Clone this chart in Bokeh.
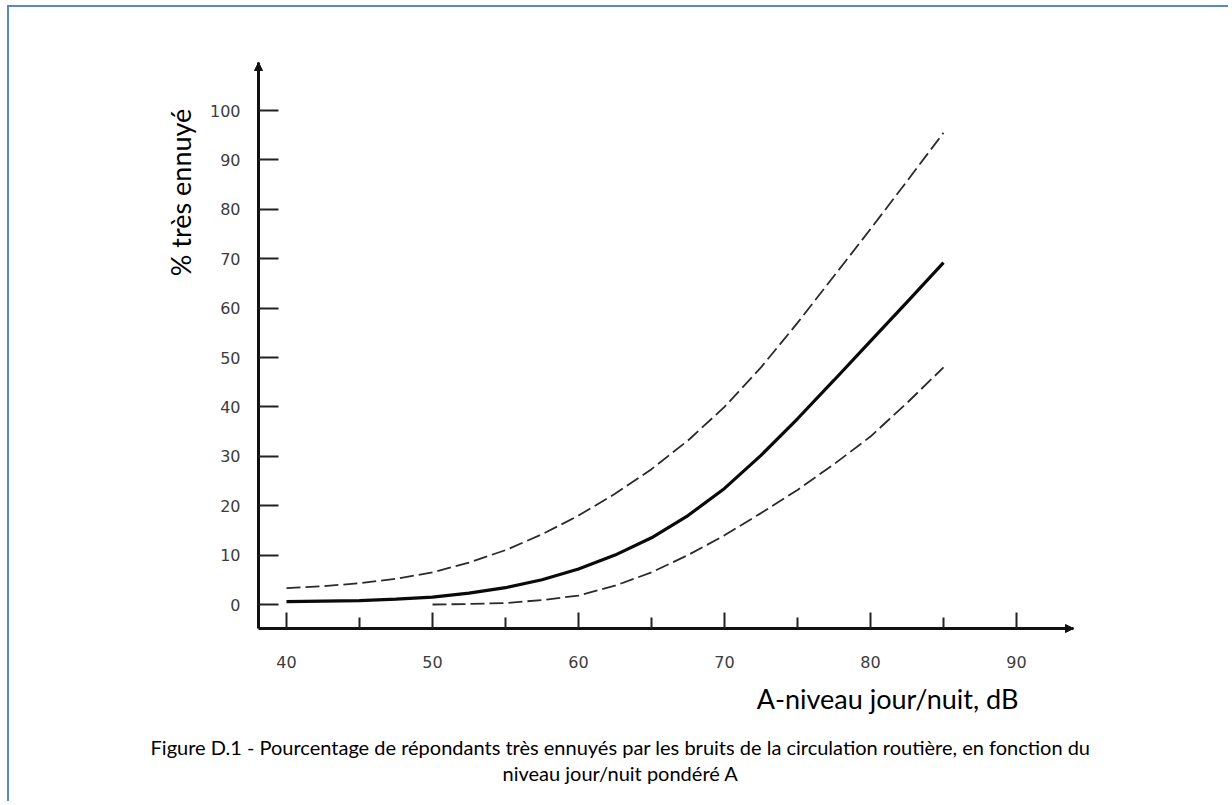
import math
from bokeh.plotting import figure
from bokeh.models import LinearAxis, FixedTicker, Label, Arrow, NormalHead, Range1d
from bokeh.embed import file_html
from bokeh.resources import INLINE

# ---- data ----
level_db = [40, 42.5, 45, 47.5, 50, 52.5, 55, 57.5, 60, 62.5, 65, 67.5, 70, 72.5, 75, 77.5, 80, 82.5, 85]
pct_mean = [0.6, 0.7, 0.8, 1.1, 1.5, 2.3, 3.4, 5.0, 7.2, 10.0, 13.5, 18.0, 23.5, 30.2, 37.6, 45.4, 53.3, 61.2, 69.2]
pct_upper = [3.3, 3.7, 4.3, 5.2, 6.5, 8.5, 11.0, 14.2, 18.0, 22.4, 27.4, 33.2, 40.0, 48.0, 57.0, 66.5, 76.0, 85.7, 95.5]
lower_db = [50, 52.5, 55, 57.5, 60, 62.5, 65, 67.5, 70, 72.5, 75, 77.5, 80, 82.5, 85]
pct_lower = [0.0, 0.1, 0.3, 0.9, 1.8, 3.8, 6.5, 10.0, 14.0, 18.5, 23.2, 28.4, 34.0, 40.8, 48.0]

x_major_ticks = [40, 50, 60, 70, 80, 90]
x_minor_ticks = [45, 55, 65, 75, 85]
y_major_ticks = [0, 10, 20, 30, 40, 50, 60, 70, 80, 90, 100]

y_label_text = "% très ennuyé"
x_label_text = "A-niveau jour/nuit, dB"
caption_1 = "Figure D.1 - Pourcentage de répondants très ennuyés par les bruits de la circulation routière, en fonction du"
caption_2 = "niveau jour/nuit pondéré A"

# ---- layout: pixel <-> data mapping ----
W, H = 1221, 796
ORG_X, ORG_Y = 9, 7            # page position of canvas origin
PX_PER_DB = 14.6               # pixels per dB
PX_PER_PCT = 4.94              # pixels per percent
X40_PX, Y0_PX = 286, 604       # page pixel of x=40 / y=0

def dx(px):
    return 40 + (px - X40_PX) / PX_PER_DB

def dy(py):
    return (Y0_PX - py) / PX_PER_PCT

AX_X0, AX_X1 = dx(258), dx(1073)   # x-axis extent
AX_Y0, AX_Y1 = dy(628), dy(62)     # y-axis extent

p = figure(width=W, height=H,
           x_range=Range1d(dx(ORG_X), dx(ORG_X + W)),
           y_range=Range1d(dy(ORG_Y + H), dy(ORG_Y)),
           output_backend="svg", toolbar_location=None,
           x_axis_type=None, y_axis_type=None,
           min_border=0, min_border_left=0, min_border_right=0,
           min_border_top=0, min_border_bottom=0)
p.styles = {"border-left": "2px solid #5b87c0", "border-top": "2px solid #5b87c0",
            "margin-left": "7px", "margin-top": "5px"}
p.outline_line_color = None
p.xgrid.visible = False
p.ygrid.visible = False
p.background_fill_color = "white"
p.border_fill_color = "white"

tick_font = "DejaVu Sans"
tick_color = "#3c3c3c"

yaxis = LinearAxis(ticker=FixedTicker(ticks=y_major_ticks), fixed_location=AX_X0,
                   bounds=(AX_Y0, AX_Y1))
yaxis.axis_line_width = 3
yaxis.axis_line_color = "#111111"
yaxis.major_tick_in = 20
yaxis.major_tick_out = 0
yaxis.major_tick_line_width = 2
yaxis.major_tick_line_color = "#222222"
yaxis.minor_tick_line_color = None
yaxis.major_label_standoff = 18
yaxis.major_label_text_font = tick_font
yaxis.major_label_text_font_size = "16px"
yaxis.major_label_text_color = tick_color
p.add_layout(yaxis, "left")

xaxis = LinearAxis(ticker=FixedTicker(ticks=x_major_ticks, minor_ticks=x_minor_ticks),
                   fixed_location=AX_Y0, bounds=(AX_X0, AX_X1))
xaxis.axis_line_width = 3
xaxis.axis_line_color = "#111111"
xaxis.major_tick_in = 16
xaxis.major_tick_out = 0
xaxis.major_tick_line_width = 2
xaxis.major_tick_line_color = "#222222"
xaxis.minor_tick_in = 11
xaxis.minor_tick_out = 0
xaxis.minor_tick_line_width = 2
xaxis.minor_tick_line_color = "#222222"
xaxis.major_label_standoff = 27
xaxis.major_label_text_font = tick_font
xaxis.major_label_text_font_size = "16px"
xaxis.major_label_text_color = tick_color
p.add_layout(xaxis, "below")

# axis arrows
p.add_layout(Arrow(end=NormalHead(size=8, fill_color="#111111", line_color="#111111"),
                   x_start=AX_X0, y_start=AX_Y1 - 3, x_end=AX_X0, y_end=AX_Y1,
                   line_width=2, line_color="#111111"))
p.add_layout(Arrow(end=NormalHead(size=8, fill_color="#111111", line_color="#111111"),
                   x_start=AX_X1 - 1, y_start=AX_Y0, x_end=AX_X1, y_end=AX_Y0,
                   line_width=2, line_color="#111111"))

# curves
p.line(level_db, pct_upper, line_color="#2a2a2a", line_width=1.8, line_dash="14 5")
p.line(lower_db, pct_lower, line_color="#2a2a2a", line_width=1.8, line_dash="14 5")
p.line(level_db, pct_mean, line_color="#0a0a0a", line_width=3.2)

label_font = "Lato"
p.add_layout(Label(x=dx(180), y=dy(192), text=y_label_text,
                   angle=math.pi / 2, text_align="center", text_baseline="middle",
                   text_font=label_font, text_font_size="27px", text_color="#000000"))
p.add_layout(Label(x=dx(887), y=dy(698), text=x_label_text,
                   text_align="center", text_baseline="middle",
                   text_font=label_font, text_font_size="27px", text_color="#000000"))
p.add_layout(Label(x=dx(620), y=dy(746), text=caption_1,
                   text_align="center", text_baseline="middle",
                   text_font=label_font, text_font_size="20px", text_color="#000000"))
p.add_layout(Label(x=dx(620), y=dy(772), text=caption_2,
                   text_align="center", text_baseline="middle",
                   text_font=label_font, text_font_size="20px", text_color="#000000"))

open("out.html", "w").write(file_html(p, INLINE))
